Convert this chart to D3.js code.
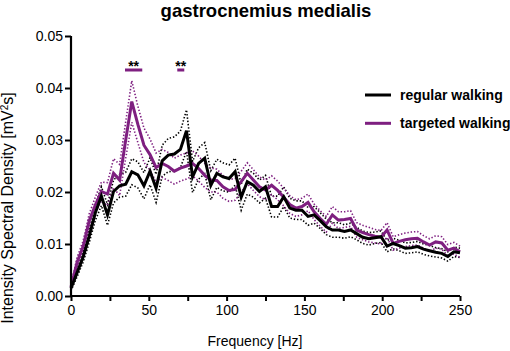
<!DOCTYPE html>
<html><head><meta charset="utf-8">
<script src="https://cdn.jsdelivr.net/npm/d3@7"></script>
<style>body{margin:0;background:#fff}svg{display:block}text{font-family:Arial,"Liberation Sans",sans-serif}</style>
</head><body><svg id="c" width="510" height="351"></svg>
<script>
const freqStep = 3.90625;
const regularMean = [0.0015,0.0045,0.0075,0.0115,0.016,0.0192,0.0156,0.0201,0.0212,0.0215,
0.0239,0.0233,0.0212,0.024,0.0207,0.026,0.0271,0.0273,0.0282,0.0318,
0.0229,0.0255,0.0265,0.0213,0.0236,0.0229,0.0226,0.0239,0.019,0.022,
0.0213,0.0201,0.021,0.0172,0.0172,0.0191,0.0169,0.0165,0.0165,0.0153,
0.0156,0.0145,0.0133,0.0127,0.0127,0.0124,0.0127,0.012,0.0113,0.011,
0.0112,0.0114,0.0096,0.0101,0.0097,0.0092,0.0093,0.0095,0.009,0.0087,
0.0084,0.0082,0.0076,0.0085,0.0083];
const regularErr = [0.0005,0.0008,0.001,0.0012,0.0015,0.0018,0.002,0.0022,0.0022,0.0023,
0.0025,0.0025,0.0025,0.0026,0.0027,0.003,0.0032,0.0033,0.0035,0.004,
0.003,0.003,0.003,0.0028,0.0027,0.0027,0.0026,0.0026,0.0025,0.0024,
0.0023,0.0022,0.0022,0.002,0.002,0.0019,0.0019,0.0018,0.0018,0.0017,
0.0016,0.0015,0.0015,0.0014,0.0014,0.0013,0.0013,0.0012,0.0012,0.0012,
0.0011,0.0011,0.0011,0.001,0.001,0.001,0.001,0.001,0.001,0.001,
0.0009,0.0009,0.0009,0.0009,0.0009];
const targetedMean = [0.0017,0.0065,0.0095,0.0145,0.0175,0.0201,0.0196,0.0236,0.0223,0.03,
0.0374,0.033,0.029,0.0272,0.0247,0.0255,0.0249,0.024,0.0246,0.025,
0.0255,0.0245,0.0232,0.0223,0.0222,0.021,0.0203,0.0205,0.022,0.0236,
0.0223,0.021,0.0204,0.0213,0.0203,0.019,0.0176,0.0169,0.0172,0.018,
0.0162,0.0149,0.0138,0.0156,0.0146,0.0147,0.0149,0.0127,0.0122,0.0118,
0.0115,0.0113,0.0127,0.0101,0.0105,0.0108,0.011,0.0111,0.0104,0.0098,
0.0104,0.0102,0.0088,0.0092,0.0085];
const targetedErr = [0.0005,0.0009,0.0011,0.0013,0.0015,0.0018,0.0022,0.0028,0.003,0.0035,
0.004,0.0035,0.0033,0.003,0.0028,0.0027,0.0027,0.0025,0.0025,0.0025,
0.0024,0.0024,0.0023,0.0023,0.0022,0.0022,0.0021,0.0021,0.002,0.002,
0.002,0.0019,0.0019,0.0018,0.0018,0.0017,0.0017,0.0016,0.0016,0.0016,
0.0015,0.0015,0.0015,0.0016,0.0016,0.0015,0.0015,0.0014,0.0014,0.0014,
0.0013,0.0013,0.0014,0.0013,0.0013,0.0013,0.0013,0.0013,0.0012,0.0012,
0.0012,0.0012,0.0011,0.0011,0.0011];
const seriesNames = ["regular walking","targeted walking"];
const seriesColors = ["#000000","#7e1f80"];
const xTicks = [0,25,50,75,100,125,150,175,200,225,250];
const xTickLabels = ["0","","50","","100","","150","","200","","250"];
const yTicks = [0,0.01,0.02,0.03,0.04,0.05];
const yTickLabels = ["0.00","0.01","0.02","0.03","0.04","0.05"];
const sigRanges = [[34.7,45.8],[68.3,72.8]];
const sigLabels = ["**","**"];

const svg = d3.select("#c");
const x = d3.scaleLinear().domain([0,250]).range([71,460]);
const y = d3.scaleLinear().domain([0,0.05]).range([296,36]);
const freqs = regularMean.map((_,i)=>i*freqStep);

const series = [
  {mean:regularMean, err:regularErr, color:seriesColors[0]},
  {mean:targetedMean, err:targetedErr, color:seriesColors[1]}
];
const line = d3.line().x(d=>x(d[0])).y(d=>y(d[1]));

series.forEach(s=>{
  [1,-1].forEach(sign=>{
    svg.append("path")
      .attr("d", line(freqs.map((f,i)=>[f, s.mean[i]+sign*s.err[i]])))
      .attr("fill","none").attr("stroke",s.color)
      .attr("stroke-width",1.6).attr("stroke-dasharray","1.4 1.9");
  });
});
[series[1],series[0]].forEach(s=>{
  svg.append("path")
    .attr("d", line(freqs.map((f,i)=>[f, s.mean[i]])))
    .attr("fill","none").attr("stroke",s.color)
    .attr("stroke-width",3).attr("stroke-linejoin","miter");
});

// axes
const xAxis = d3.axisBottom(x).tickValues(xTicks).tickFormat((d,i)=>xTickLabels[i]).tickSize(5).tickPadding(4);
const gx = svg.append("g").attr("transform","translate(0,296)").call(xAxis);
const yAxis = d3.axisLeft(y).tickValues(yTicks).tickFormat((d,i)=>yTickLabels[i]).tickSize(6).tickPadding(2);
const gy = svg.append("g").attr("transform","translate(71,0)").call(yAxis);
[gx,gy].forEach(g=>{
  g.select(".domain").attr("stroke","#000").attr("stroke-width",2.2);
  g.selectAll(".tick line").attr("stroke","#000").attr("stroke-width",2);
  g.selectAll(".tick text").attr("fill","#000").style("font-size","14px").style("font-family","Arial, 'Liberation Sans', sans-serif");
});
gx.select(".domain").attr("d","M71,0H460");
gy.select(".domain").attr("d","M0,296V36");

// significance marks
sigRanges.forEach((r,i)=>{
  svg.append("line").attr("x1",x(r[0])).attr("x2",x(r[1])).attr("y1",70).attr("y2",70)
    .attr("stroke",seriesColors[1]).attr("stroke-width",3);
  svg.append("text").attr("x",(x(r[0])+x(r[1]))/2).attr("y",71).attr("text-anchor","middle")
    .style("font-size","14px").style("font-weight","bold").text(sigLabels[i]);
});

// title
svg.append("text").attr("x",266).attr("y",17).attr("text-anchor","middle")
  .style("font-size","18.5px").style("font-weight","bold").text("gastrocnemius medialis");
// axis labels
svg.append("text").attr("x",255).attr("y",346).attr("text-anchor","middle")
  .style("font-size","14px").text("Frequency [Hz]");
const yl = svg.append("text").attr("transform","translate(13,208) rotate(-90)").attr("text-anchor","middle")
  .style("font-size","16px");
yl.append("tspan").text("Intensity Spectral Density [mV");
yl.append("tspan").attr("dy",-5).style("font-size","10px").text("2");
yl.append("tspan").attr("dy",5).text("s]");

// legend
seriesNames.forEach((n,i)=>{
  const ly = 95 + i*28.3;
  svg.append("line").attr("x1",365).attr("x2",391).attr("y1",ly).attr("y2",ly)
    .attr("stroke",seriesColors[i]).attr("stroke-width",3);
  svg.append("text").attr("x",400).attr("y",ly+5).style("font-size","14px").style("font-weight","bold").text(n);
});
</script></body></html>
